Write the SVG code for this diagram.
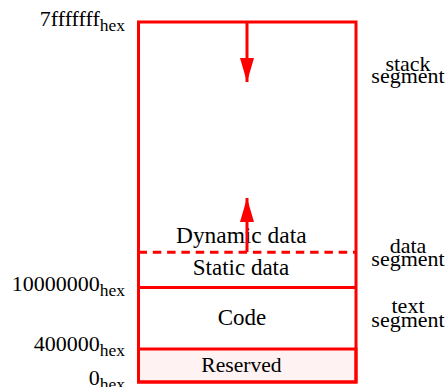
<svg xmlns="http://www.w3.org/2000/svg" width="447" height="387" viewBox="0 0 447 387">
<defs>
<style>
text{font-family:"Liberation Serif","Times New Roman",serif;font-size:22px;fill:#000}
.lbl{text-anchor:middle}
.big{font-size:23px}
.addr{text-anchor:end}
.sub{font-size:17.5px}
.box{fill:none;stroke:#ff0000;stroke-width:3}
.ln{stroke:#ff0000;stroke-width:3;fill:none}
.dash{stroke:#ff0000;stroke-width:3;stroke-dasharray:8.5 5.8;fill:none}
</style>
<marker id="ah" viewBox="0 0 24 14" refX="24" refY="7" markerWidth="24" markerHeight="14" markerUnits="userSpaceOnUse" orient="auto">
<path d="M0,0 L24,7 L0,14 Z" fill="#ff0000"/>
</marker>
</defs>
<rect width="447" height="387" fill="#ffffff"/>
<g id="reserved">
<rect x="138.5" y="349" width="217.5" height="33" fill="#fff2f2" stroke="#ff0000" stroke-width="3"/>
<text class="lbl" x="241.5" y="371.7" style="font-size:21.6px">Reserved</text>
</g>
<g id="memory">
<rect class="box" x="138.5" y="22" width="217.5" height="360"/>
</g>
<g id="code">
<text class="lbl big" x="242" y="325">Code</text>
</g>
<g id="static-data">
<text class="lbl big" x="241" y="275">Static data</text>
</g>
<g id="dynamic-data">
<text class="lbl big" x="241.3" y="243.3" style="font-size:23.4px">Dynamic data</text>
</g>
<g id="connectors">
<line class="ln" x1="138.5" y1="287.5" x2="356" y2="287.5"/>
<line class="dash" x1="138.5" y1="252.3" x2="356" y2="252.3"/>
<line class="ln" x1="247" y1="22" x2="247" y2="82" marker-end="url(#ah)"/>
<line class="ln" x1="247" y1="252" x2="247" y2="198" marker-end="url(#ah)"/>
</g>
<g id="addresses">
<text class="addr" x="125" y="26">7fffffff<tspan class="sub" dy="4.5">hex</tspan></text>
<text class="addr" x="125" y="290.7">10000000<tspan class="sub" dy="5">hex</tspan></text>
<text class="addr" x="125" y="351">400000<tspan class="sub" dy="5">hex</tspan></text>
<text class="addr" x="125" y="385">0<tspan class="sub" dy="5">hex</tspan></text>
</g>
<g id="segments">
<text class="lbl" x="408" y="70.7">stack</text>
<text class="lbl" x="408" y="83.3">segment</text>
<text class="lbl" x="408" y="253.3">data</text>
<text class="lbl" x="408" y="266">segment</text>
<text class="lbl" x="408" y="313">text</text>
<text class="lbl" x="408" y="326.7">segment</text>
</g>
</svg>
